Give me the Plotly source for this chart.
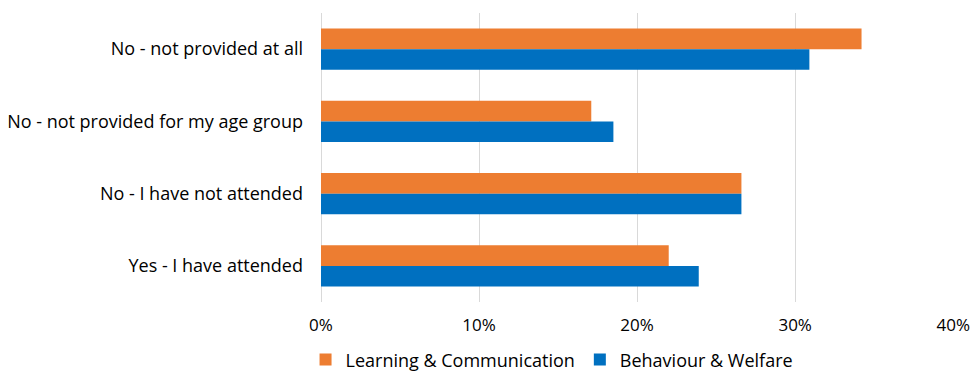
import plotly.graph_objects as go

categories = [
    "No - not provided at all",
    "No - not provided for my age group",
    "No - I have not attended",
    "Yes - I have attended",
]
learning_comm = [0.342, 0.171, 0.266, 0.220]
behaviour_welfare = [0.309, 0.185, 0.266, 0.239]

tick_vals = [0, 0.1, 0.2, 0.3, 0.4]
tick_text = ["0%", "10%", "20%", "30%", "40%"]

FONT = "Open Sans"
TEXT = "#000000"
SIZE = 18

fig = go.Figure()
fig.add_trace(go.Bar(
    y=categories, x=learning_comm, orientation="h",
    name="Learning & Communication", marker=dict(color="#ED7D31", line=dict(width=0)),
))
fig.add_trace(go.Bar(
    y=categories, x=behaviour_welfare, orientation="h",
    name="Behaviour & Welfare", marker=dict(color="#0070C0", line=dict(width=0)),
))

fig.update_layout(
    width=970, height=371,
    margin=dict(l=321, r=16, t=13, b=69, autoexpand=False),
    paper_bgcolor="white", plot_bgcolor="white",
    barmode="group", bargap=0.43, bargroupgap=0,
    font=dict(family=FONT, size=SIZE, color=TEXT),
    showlegend=True,
    legend=dict(
        orientation="h", x=0.365, xanchor="center",
        y=-0.2, yanchor="middle",
        font=dict(family=FONT, size=SIZE, color=TEXT),
        tracegroupgap=0,
    ),
    xaxis=dict(
        range=[0, 0.4005], tickvals=tick_vals, ticktext=tick_text,
        showgrid=True, gridcolor="#D9D9D9", gridwidth=1,
        zeroline=True, zerolinecolor="#D9D9D9", zerolinewidth=1,
        showline=False, ticks="", ticklabelstandoff=11,
        tickfont=dict(family=FONT, size=17, color=TEXT),
    ),
    yaxis=dict(
        autorange="reversed", showgrid=False, zeroline=False, showline=False,
        ticks="", ticklabelstandoff=17,
        tickfont=dict(family=FONT, size=SIZE, color=TEXT),
    ),
)

fig.write_html("out.html")
